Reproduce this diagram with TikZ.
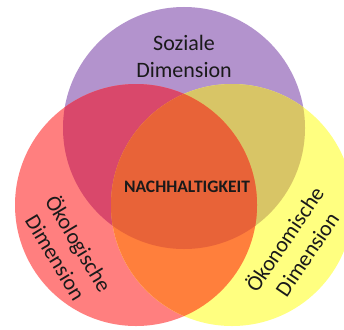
\documentclass[tikz,border=0pt]{standalone}
\usepackage{fontspec}
\setmainfont{Carlito}
\definecolor{cpurple}{HTML}{B393CD}
\definecolor{cred}{HTML}{FF7F7F}
\definecolor{cyellow}{HTML}{FFFF80}
\definecolor{cpr}{HTML}{D9486B}
\definecolor{cpy}{HTML}{D8C566}
\definecolor{cry}{HTML}{FF7F3C}
\definecolor{ccenter}{HTML}{E86338}
\definecolor{ctext}{HTML}{1A1A1A}
\tikzset{
  lbl/.style={text=ctext, align=center, font=\fontsize{22}{27}\selectfont, inner sep=0pt},
  core/.style={text=ctext, font=\fontsize{17.5}{20}\selectfont\bfseries, inner sep=0pt}
}
\begin{document}
\begin{tikzpicture}[x=1pt,y=-1pt]
\useasboundingbox (0,0) rectangle (344,329);
\fill[white] (0,0) rectangle (344,329);
\clip (0,0) rectangle (344,329);
\coordinate (P) at (184,128);
\coordinate (R) at (136,205);
\coordinate (Y) at (232,205);
\def\rad{121}
\fill[cpurple] (P) circle (\rad);
\fill[cred] (R) circle (\rad);
\fill[cyellow] (Y) circle (\rad);
\begin{scope}
  \clip (P) circle (\rad);
  \fill[cpr] (R) circle (\rad);
  \fill[cpy] (Y) circle (\rad);
\end{scope}
\begin{scope}
  \clip (R) circle (\rad);
  \fill[cry] (Y) circle (\rad);
\end{scope}
\begin{scope}
  \clip (P) circle (\rad);
  \clip (R) circle (\rad);
  \fill[ccenter] (Y) circle (\rad);
\end{scope}
\node[lbl] (soz) at (184,56) {Soziale\\Dimension};
\node[lbl, rotate=-59] (oek) at (68,250) {Ökologische\\Dimension};
\node[lbl, rotate=56] (oko) at (295,246) {Ökonomische\\Dimension};
\node[core] (nach) at (187,187) {NACHHALTIGKEIT};
\end{tikzpicture}
\end{document}
